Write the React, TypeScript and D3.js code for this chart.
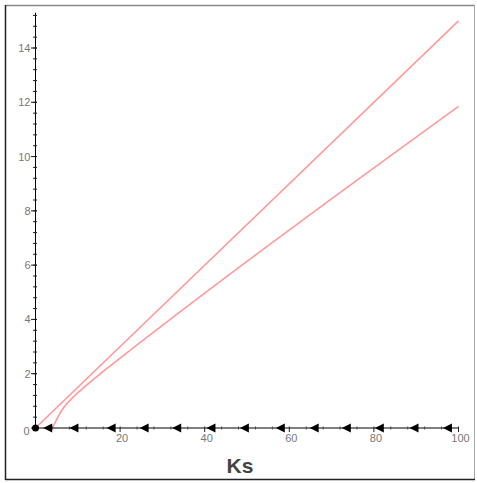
import React from "react";
import * as d3 from "d3";

const xTicks = [20, 40, 60, 80, 100];
const yTicks = [0, 2, 4, 6, 8, 10, 12, 14];
const upperCurve: [number, number][] = [[0, 0], [100, 15]];
const lowerCurve: [number, number][] = [
  [4, 0], [6.5, 0.72], [9, 1.15], [13, 1.7], [18, 2.33], [25, 3.18],
  [35, 4.38], [45, 5.56], [55, 6.72], [67, 8.1], [80, 9.58], [100, 11.85],
];
const arrowX = [3, 9.2, 18, 25.8, 33.5, 41.6, 49.5, 58, 66, 73.6, 81.4, 89.6, 97.5];

export default function App() {
  const W = 477, H = 483;
  const x = d3.scaleLinear().domain([0, 100]).range([35.5, 458.5]);
  const y = d3.scaleLinear().domain([0, 14]).range([428, 48]);
  const line = d3.line<[number, number]>().x(d => x(d[0])).y(d => y(d[1])).curve(d3.curveCatmullRom);
  const minorY = d3.range(0, 15.21, 0.4);
  const minorX = d3.range(4, 100, 4).filter(v => v % 20 !== 0);
  const x0 = x(0), y0 = y(0);
  return (
    <svg width={W} height={H} style={{ position: "absolute", left: 0, top: 0, background: "#fff" }}
      fontFamily="'Liberation Sans', Arial, sans-serif">
      <rect x={0} y={0} width={W} height={H} fill="#fff" />
      {/* frame */}
      <line x1={5} y1={5.5} x2={475} y2={5.5} stroke="#888" strokeWidth={1.5} />
      <line x1={474.5} y1={5} x2={474.5} y2={480} stroke="#aaa" strokeWidth={1} />
      <line x1={5.5} y1={5} x2={5.5} y2={480} stroke="#222" strokeWidth={1.5} />
      <line x1={5} y1={479.5} x2={475} y2={479.5} stroke="#222" strokeWidth={1.5} />

      {/* curves */}
      <path d={line(upperCurve) ?? ""} fill="none" stroke="#ff9a9a" strokeWidth={1.6} />
      <path d={line(lowerCurve) ?? ""} fill="none" stroke="#ff9a9a" strokeWidth={1.6} />

      {/* y axis */}
      <line x1={x0} y1={y(15.3)} x2={x0} y2={y0} stroke="#000" strokeWidth={1} />
      {minorY.map((v, i) => (
        <line key={"my" + i} x1={x0 - 2.5} x2={x0 + 1.5} y1={y(v)} y2={y(v)} stroke="#222" strokeWidth={1} />
      ))}
      {yTicks.map(v => (
        <g key={"yt" + v}>
          <line x1={x0 - 4.5} x2={x0 + 1.5} y1={y(v)} y2={y(v)} stroke="#222" strokeWidth={1} />
          <text x={x0 - (v === 0 ? 6 : 5)} y={y(v) + (v === 0 ? 7 : 4)} fontSize={11} fill="#777" textAnchor="end">{v}</text>
        </g>
      ))}

      {/* x axis */}
      <line x1={x0} y1={y0} x2={x(100)} y2={y0} stroke="#000" strokeWidth={1} />
      {minorX.map(v => (
        <line key={"mx" + v} x1={x(v)} x2={x(v)} y1={y0 - 1.5} y2={y0 + 1.5} stroke="#444" strokeWidth={1} />
      ))}
      {xTicks.map(v => (
        <g key={"xt" + v}>
          <line x1={x(v)} x2={x(v)} y1={y0 - 1.5} y2={y0 + 4} stroke="#222" strokeWidth={1} />
          <text x={x(v) + 2} y={y0 + 14} fontSize={11} fill="#777" textAnchor="middle">{v}</text>
        </g>
      ))}

      {/* arrows */}
      <circle cx={x0} cy={y0} r={3.5} fill="#000" />
      {arrowX.map((v, i) => {
        const cx = x(v);
        return (
          <path key={"ar" + i} d={`M${cx - 5},${y0} L${cx + 4},${y0 - 4.5} L${cx + 4},${y0 + 4.5} Z`} fill="#000" />
        );
      })}

      <text x={240} y={473} fontSize={21} fontWeight="bold" fill="#444" textAnchor="middle">Ks</text>
    </svg>
  );
}
